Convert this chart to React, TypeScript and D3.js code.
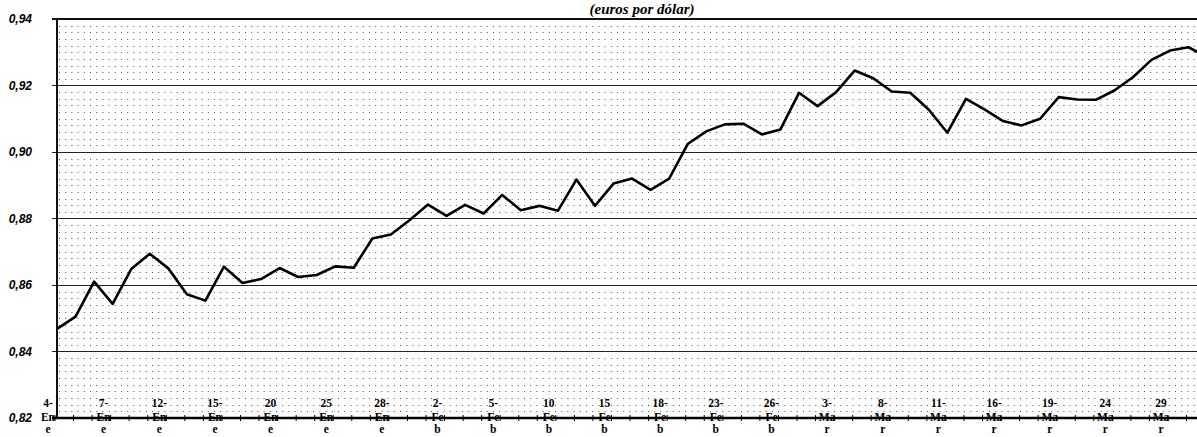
import React, { useEffect, useRef } from "react";
import * as d3 from "d3";

const WIDTH = 1197;
const HEIGHT = 437;

// tipo de cambio diario, ene-mar 1999 (euros por dólar)
const values = [
  0.8468, 0.8505, 0.861, 0.8543, 0.8648, 0.8694, 0.865, 0.8572, 0.8553, 0.8655, 0.8606, 0.8618, 0.8651, 0.8624,
  0.863, 0.8656, 0.8652, 0.874, 0.8752, 0.8795, 0.8842, 0.8808, 0.8841, 0.8815, 0.8871, 0.8825, 0.8838, 0.8823,
  0.8917, 0.8838, 0.8905, 0.892, 0.8886, 0.892, 0.9024, 0.9062, 0.9083, 0.9085, 0.9053, 0.9068, 0.9178, 0.9138,
  0.918, 0.9245, 0.9222, 0.9182, 0.9178, 0.9127, 0.9058, 0.916, 0.9128, 0.9093, 0.908, 0.91, 0.9165, 0.9158,
  0.9157, 0.9185, 0.9225, 0.9277, 0.9305, 0.9315, 0.9285,
];

// every third trading day carries a label
const tickDays = ["4-", "7-", "12-", "15-", "20", "25", "28-", "2-", "5-", "10", "15", "18-", "23-", "26-", "3-", "8-", "11-", "16-", "19-", "24", "29"];
const tickMonths = ["Ene", "Ene", "Ene", "Ene", "Ene", "Ene", "Ene", "Feb", "Feb", "Feb", "Feb", "Feb", "Feb", "Feb", "Mar", "Mar", "Mar", "Mar", "Mar", "Mar", "Mar"];

const yTicks = [0.82, 0.84, 0.86, 0.88, 0.9, 0.92, 0.94];
const title = "(euros por dólar)";

const left = 57;
const top = 19;
const bottom = 418;
const step = 18.55;

export default function App() {
  const ref = useRef<SVGSVGElement | null>(null);

  useEffect(() => {
    const svg = d3.select(ref.current);
    svg.selectAll("*").remove();

    const x = d3
      .scaleLinear()
      .domain([0, values.length - 1])
      .range([left, left + step * (values.length - 1)]);
    const y = d3.scaleLinear().domain([0.82, 0.94]).range([bottom, top]);

    svg.append("rect").attr("width", WIDTH).attr("height", HEIGHT).attr("fill", "#fff");

    // dotted minor grid
    const minor = d3.range(0.822, 0.94, 0.002).filter((v) => Math.abs(Math.round(v * 50) - v * 50) > 0.01);
    svg
      .append("g")
      .selectAll("line")
      .data(minor)
      .enter()
      .append("line")
      .attr("x1", left + 2)
      .attr("x2", WIDTH)
      .attr("y1", (d) => Math.round(y(d)) + 0.5)
      .attr("y2", (d) => Math.round(y(d)) + 0.5)
      .style("stroke", "#555")
      .style("stroke-width", 1)
      .style("stroke-dasharray", "1,5.2");

    // major gridlines
    svg
      .append("g")
      .selectAll("line")
      .data(yTicks.slice(1, -1))
      .enter()
      .append("line")
      .attr("x1", left - 5)
      .attr("x2", WIDTH)
      .attr("y1", (d) => Math.round(y(d)) + 0.5)
      .attr("y2", (d) => Math.round(y(d)) + 0.5)
      .style("stroke", "#222")
      .style("stroke-width", 1.2);

    // frame: top border, left axis, bottom axis
    svg.append("line").attr("x1", left - 5).attr("x2", WIDTH).attr("y1", top).attr("y2", top).style("stroke", "#111").style("stroke-width", 2);
    svg.append("line").attr("x1", left).attr("x2", left).attr("y1", top).attr("y2", bottom).style("stroke", "#111").style("stroke-width", 2);
    svg.append("line").attr("x1", left - 5).attr("x2", WIDTH).attr("y1", bottom).attr("y2", bottom).style("stroke", "#000").style("stroke-width", 2.5);

    // y labels
    svg
      .append("g")
      .selectAll("text")
      .data(yTicks)
      .enter()
      .append("text")
      .attr("x", 32)
      .attr("y", (d) => y(d))
      .attr("dy", "0.35em")
      .attr("text-anchor", "end")
      .style("font-family", "'Liberation Sans', Arial, sans-serif")
      .style("font-style", "italic")
      .style("font-weight", "bold")
      .style("font-size", "12px")
      .text((d) => d.toFixed(2).replace(".", ","));

    // x ticks, one per day
    svg
      .append("g")
      .selectAll("line")
      .data(values.map((_, i) => i))
      .enter()
      .append("line")
      .attr("x1", (d) => x(d) - 2)
      .attr("x2", (d) => x(d) - 2)
      .attr("y1", bottom - 3)
      .attr("y2", bottom + 3)
      .style("stroke", "#000")
      .style("stroke-width", 1);

    // x labels, wrapped in three lines
    const lab = svg
      .append("g")
      .style("font-family", "'Liberation Serif', 'Times New Roman', serif")
      .style("font-weight", "bold")
      .style("font-size", "11.5px")
      .attr("text-anchor", "middle");
    tickDays.forEach((day, k) => {
      const cx = x(k * 3) - 9;
      const m = tickMonths[k];
      lab.append("text").attr("x", cx).attr("y", 407).text(day);
      lab.append("text").attr("x", cx).attr("y", 421).text(m.slice(0, 2));
      lab.append("text").attr("x", cx).attr("y", 433).text(m.slice(2));
    });

    // series line
    const line = d3
      .line<number>()
      .x((_, i) => x(i))
      .y((d) => y(d));
    svg
      .append("path")
      .datum(values)
      .attr("d", line)
      .style("fill", "none")
      .style("stroke", "#000")
      .style("stroke-width", 2.6)
      .style("stroke-linejoin", "round");

    // title
    svg
      .append("text")
      .attr("x", 642)
      .attr("y", 14)
      .attr("text-anchor", "middle")
      .style("font-family", "'Liberation Serif', 'Times New Roman', serif")
      .style("font-style", "italic")
      .style("font-weight", "bold")
      .style("font-size", "15px")
      .text(title);
  }, []);

  return (
    <svg
      ref={ref}
      width={WIDTH}
      height={HEIGHT}
      style={{ position: "fixed", left: 0, top: 0, display: "block" }}
    />
  );
}
